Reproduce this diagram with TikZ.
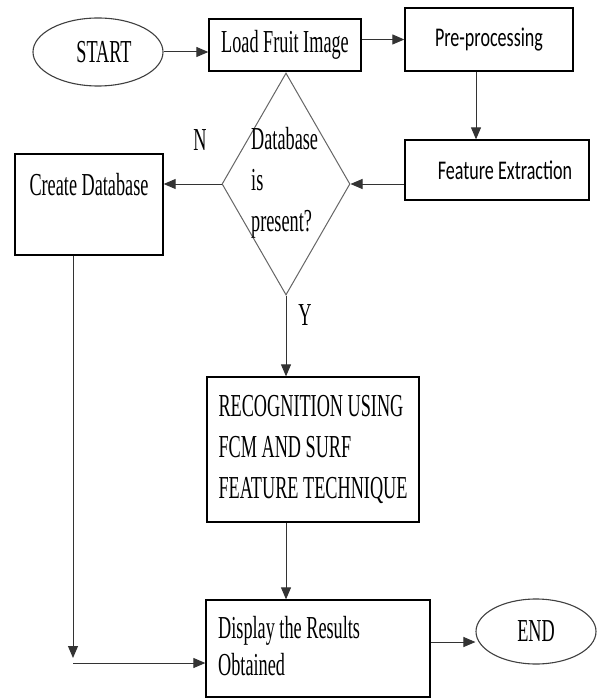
\documentclass[tikz,border=0pt]{standalone}
\usepackage{fontspec}
\setmainfont{Liberation Serif}[FakeStretch=0.57]
\newfontfamily\calfont{Carlito}[FakeStretch=0.67]
\usetikzlibrary{shapes.geometric,arrows.meta}
\begin{document}
\begin{tikzpicture}[x=1pt,y=-1pt]
        \tikzset{
            procbox/.style={rectangle,draw=black,line width=1.3pt,inner sep=0pt,font=\fontsize{32}{41}\selectfont},
            termnode/.style={ellipse,draw=black!75,line width=1.1pt,inner sep=0pt,font=\fontsize{32}{41}\selectfont},
            decnode/.style={diamond,draw=black!60,line width=1pt,inner sep=0pt,minimum width=128pt,minimum height=222pt},
            flow/.style={-{Triangle[length=12pt,width=10pt]},line width=1pt,draw=black!80},
            lbl/.style={font=\fontsize{32}{41}\selectfont,inner sep=0pt},
        }
        \path[use as bounding box,fill=white] (0,0) rectangle (597,698);

        \node[termnode,minimum width=130pt,minimum height=68pt] (start) at (98,52) {\hspace{12pt}START};
        \node[procbox,minimum width=152pt,minimum height=52pt] (load) at (285,45) {Load Fruit Image};
        \node[procbox,minimum width=168pt,minimum height=63pt,font=\calfont\fontsize{27}{33}\selectfont] (pre) at (489,39.5) {Pre-processing};
        \node[procbox,minimum width=184pt,minimum height=60pt,font=\calfont\fontsize{27}{33}\selectfont] (fe) at (497,170) {\hspace{16pt}Feature Extraction};
        \node[decnode] (dia) at (286,184) {};
        \node[lbl,align=left,anchor=west] (dbtext) at (251,183) {Database\\is\\present?};
        \node[procbox,minimum width=148pt,text height=41pt,text depth=60pt] (cdb) at (89,204.5) {Create Database};
        \node[procbox,minimum width=212pt,minimum height=145pt,align=left] (rec) at (313,449.5) {RECOGNITION USING\\FCM AND SURF\\FEATURE TECHNIQUE};
        \node[procbox,minimum width=224pt,minimum height=97pt] (disp) at (318,648.5) {};
        \node[lbl,align=left,anchor=west,font=\fontsize{32}{37}\selectfont] (disptext) at (218,646) {Display the Results\\Obtained};
        \node[termnode,minimum width=120pt,minimum height=65pt] (endn) at (536,631.5) {END};
        \node[lbl] (nlbl) at (200,140) {N};
        \node[lbl] (ylbl) at (305,315) {Y};
        \coordinate (outy) at (0,642);
        \coordinate (cdbturn) at (73,663);

        \draw[flow] (start) -- (start -| load.west);
        \draw[flow] (load.east |- pre) -- (pre.west);
        \draw[flow] ([xshift=-13pt]pre.south) -- ([xshift=-13pt]pre.south |- fe.north);
        \draw[flow] (fe.west |- dia) -- (dia.east);
        \draw[flow] (dia.west) -- (cdb.east |- dia);
        \draw[flow] (dia.south) -- (dia.south |- rec.north);
        \draw[flow] (dia.south |- rec.south) -- (dia.south |- disp.north);
        \draw[flow] (disp.east |- outy) -- (endn.west |- outy);
        \draw[flow] (cdb.south -| cdbturn) -- ([yshift=5pt]cdbturn);
        \draw[flow] (cdbturn) -- (cdbturn -| disp.west);
    \end{tikzpicture}
\end{document}
